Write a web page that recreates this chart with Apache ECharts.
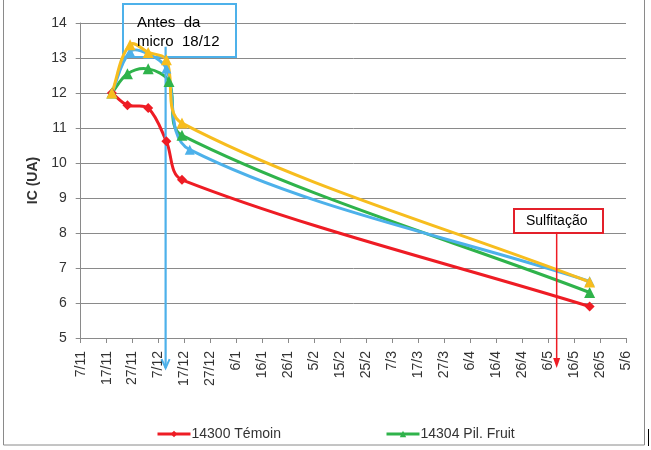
<!DOCTYPE html>
<html>
<head>
<meta charset="utf-8">
<script src="https://cdn.jsdelivr.net/npm/echarts@6/dist/echarts.min.js"></script>
<style>html,body{margin:0;padding:0;background:#fff;}#c{width:651px;height:450px;}</style>
</head>
<body>
<div id="c"></div>
<script>
// x values are days since 7/11 (tick step 10 days)
var tickLabels = ['7/11','17/11','27/11','7/12','17/12','27/12','6/1','16/1','26/1','5/2','15/2','25/2','7/3','17/3','27/3','6/4','16/4','26/4','6/5','16/5','26/5','5/6'];
var redDays = [12, 18, 26, 33, 39, 196];
var redVals = [12.0, 11.65, 11.57, 10.62, 9.52, 5.9];
var greenDays = [12, 18, 26, 34, 39, 196];
var greenVals = [12.0, 12.55, 12.69, 12.33, 10.79, 6.3];
var blueDays = [12, 19, 26, 33, 42, 196];
var blueVals = [12.0, 13.18, 13.12, 12.7, 10.38, 6.62];
var yellowDays = [12, 19, 26, 33, 39, 196];
var yellowVals = [12.0, 13.38, 13.16, 12.95, 11.14, 6.6];
var seriesNames = ['14300 Témoin', '14304 Pil. Fruit', '14301', '14302'];
// annotation arrows: [day, yTop, yBottom]
var microArrow = [32.7, 13.32, 4.14];
var sulfArrow = [183.3, 8.03, 4.14];

function pairs(d, v) { return d.map(function (x, i) { return [x, v[i]]; }); }

var chart = echarts.init(document.getElementById('c'));
var FONT = 'Liberation Sans, Arial, sans-serif';
var RED = '#ee1c24', GREEN = '#2fb34b', BLUE = '#4db1ea', YELLOW = '#f7bd1e';

function smoothPath(pts, f) {
  var n = pts.length, dirs = [];
  for (var i = 0; i < n; i++) {
    var a = pts[Math.max(0, i - 1)], b = pts[Math.min(n - 1, i + 1)];
    var dx = b[0] - a[0], dy = b[1] - a[1], l = Math.sqrt(dx * dx + dy * dy) || 1;
    dirs.push([dx / l, dy / l]);
  }
  var d = 'M' + pts[0][0] + ' ' + pts[0][1];
  for (var j = 0; j < n - 1; j++) {
    var p = pts[j], q = pts[j + 1];
    var L = Math.sqrt((q[0] - p[0]) * (q[0] - p[0]) + (q[1] - p[1]) * (q[1] - p[1]));
    var c1 = [p[0] + dirs[j][0] * f * L, p[1] + dirs[j][1] * f * L];
    var c2 = [q[0] - dirs[j + 1][0] * f * L, q[1] - dirs[j + 1][1] * f * L];
    d += ' C' + c1[0] + ' ' + c1[1] + ' ' + c2[0] + ' ' + c2[1] + ' ' + q[0] + ' ' + q[1];
  }
  return d;
}

function curveSeries(days, vals, color) {
  return {
    type: 'custom', silent: true, z: 2,
    data: pairs(days, vals),
    encode: { x: 0, y: 1 },
    renderItem: function (params, api) {
      if (params.dataIndex !== 0) return null;
      var pts = days.map(function (dd, i) { return api.coord([dd, vals[i]]); });
      return {
        type: 'path',
        shape: { pathData: smoothPath(pts, 0.32) },
        style: { fill: 'none', stroke: color, lineWidth: 3 }
      };
    }
  };
}

function markerSeries(name, days, vals, color, symbol, size) {
  return {
    name: name, type: 'line', data: pairs(days, vals), z: 4,
    symbol: symbol, symbolSize: size,
    lineStyle: { color: color, width: 3, opacity: 0 },
    itemStyle: { color: color },
    emphasis: { disabled: true }
  };
}

chart.setOption({
  animation: false,
  textStyle: { fontFamily: FONT },
  grid: { left: 80.7, right: 25, top: 23, bottom: 112, containLabel: false },
  xAxis: {
    type: 'value', min: 0, max: 210, interval: 10,
    axisLine: { show: true, lineStyle: { color: '#8a8a8a', width: 1 } },
    axisTick: { show: true, length: 5, lineStyle: { color: '#8a8a8a' } },
    splitLine: { show: false },
    axisLabel: {
      rotate: 90, margin: 13, fontSize: 14, color: '#333', fontFamily: FONT,
      formatter: function (v) { return tickLabels[Math.round(v / 10)] || ''; }
    }
  },
  yAxis: {
    type: 'value', min: 5, max: 14, interval: 1,
    name: 'IC (UA)', nameLocation: 'middle', nameGap: 38,
    nameTextStyle: { fontSize: 14, fontWeight: 'bold', color: '#333', fontFamily: FONT },
    axisLine: { show: true, lineStyle: { color: '#8a8a8a', width: 1 } },
    axisTick: { show: true, length: 5, lineStyle: { color: '#8a8a8a' } },
    splitLine: { show: true, lineStyle: { color: '#8a8a8a', width: 1 } },
    axisLabel: { fontSize: 14, color: '#333', margin: 14, fontFamily: FONT }
  },
  legend: {
    data: [
      { name: seriesNames[0], lineStyle: { opacity: 1, width: 3 } },
      { name: seriesNames[1], lineStyle: { opacity: 1, width: 3 } }
    ],
    padding: 0,
    left: 156, top: 427, itemWidth: 33, itemHeight: 8, itemGap: 104,
    textStyle: { fontSize: 14, color: '#333', fontFamily: FONT, padding: [0, 0, 0, -4] }
  },
  series: [
    curveSeries(redDays, redVals, RED),
    curveSeries(greenDays, greenVals, GREEN),
    curveSeries(blueDays, blueVals, BLUE),
    curveSeries(yellowDays, yellowVals, YELLOW),
    markerSeries(seriesNames[0], redDays, redVals, RED, 'diamond', 10),
    markerSeries(seriesNames[1], greenDays, greenVals, GREEN, 'triangle', 11),
    markerSeries(seriesNames[2], blueDays, blueVals, BLUE, 'triangle', 10),
    markerSeries(seriesNames[3], yellowDays, yellowVals, YELLOW, 'triangle', 11)
  ]
});

function arrowGraphics() {
  var b1 = chart.convertToPixel({ gridIndex: 0 }, [microArrow[0], microArrow[1]]);
  var b2 = chart.convertToPixel({ gridIndex: 0 }, [microArrow[0], microArrow[2]]);
  var s1 = chart.convertToPixel({ gridIndex: 0 }, [sulfArrow[0], sulfArrow[1]]);
  var s2 = chart.convertToPixel({ gridIndex: 0 }, [sulfArrow[0], sulfArrow[2]]);
  return [
    { type: 'rect', silent: true, z: -1, shape: { x: 3.5, y: -5, width: 641, height: 450 },
      style: { fill: 'none', stroke: '#8a8a8a', lineWidth: 1 } },
    { type: 'line', silent: true, shape: { x1: 648.5, y1: 429, x2: 648.5, y2: 446 },
      style: { stroke: '#000', lineWidth: 1 } },
    { type: 'line', silent: true, z: 3, shape: { x1: b1[0], y1: b1[1], x2: b2[0], y2: b2[1] },
      style: { stroke: BLUE, lineWidth: 2.2 } },
    { type: 'polyline', silent: true, z: 3,
      shape: { points: [[b2[0] - 4, b2[1] - 9], [b2[0], b2[1]], [b2[0] + 4, b2[1] - 9]] },
      style: { stroke: BLUE, lineWidth: 2, fill: 'none' } },
    { type: 'line', silent: true, z: 6, shape: { x1: s1[0], y1: s1[1], x2: s2[0], y2: s2[1] - 6 },
      style: { stroke: RED, lineWidth: 1.5 } },
    { type: 'polygon', silent: true, z: 6,
      shape: { points: [[s2[0] - 3.5, s2[1] - 10], [s2[0], s2[1]], [s2[0] + 3.5, s2[1] - 10]] },
      style: { fill: RED } },
    { type: 'rect', silent: true, z: 1, shape: { x: 123, y: 4, width: 113, height: 53 },
      style: { fill: 'rgba(255,255,255,0)', stroke: BLUE, lineWidth: 2 } },
    { type: 'text', silent: true, z: 10, left: 137, top: 15,
      style: { text: 'Antes  da', font: '15px ' + FONT, fill: '#000' } },
    { type: 'text', silent: true, z: 10, left: 137, top: 34,
      style: { text: 'micro  18/12', font: '15px ' + FONT, fill: '#000' } },
    { type: 'rect', silent: true, z: 5, shape: { x: 514, y: 209, width: 89, height: 24 },
      style: { fill: '#fff', stroke: '#e3202a', lineWidth: 2 } },
    { type: 'text', silent: true, z: 10, left: 526, top: 214,
      style: { text: 'Sulfitação', font: '14px ' + FONT, fill: '#000' } }
  ];
}
chart.setOption({ graphic: arrowGraphics() });
</script>
</body>
</html>
